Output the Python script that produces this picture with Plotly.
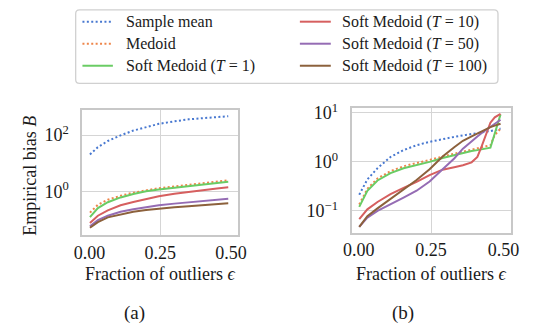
import numpy as np
import plotly.graph_objects as go

W, H = 535, 332

# ---------------- data (bias values, stored as log10) ----------------
eps_left = [0.002, 0.03, 0.065, 0.11, 0.155, 0.2, 0.245, 0.3, 0.35, 0.4, 0.45, 0.49]
left_mean_log10 = [1.31, 1.57, 1.79, 1.99, 2.16, 2.29, 2.40, 2.49, 2.56, 2.60, 2.64, 2.67]
left_medoid_log10 = [-0.76, -0.48, -0.30, -0.16, -0.05, 0.04, 0.11, 0.17, 0.23, 0.29, 0.35, 0.39]
left_t1_log10 = [-0.92, -0.60, -0.39, -0.22, -0.10, 0.00, 0.06, 0.12, 0.18, 0.24, 0.30, 0.34]
left_t10_log10 = [-1.13, -0.87, -0.68, -0.50, -0.38, -0.27, -0.18, -0.09, -0.02, 0.04, 0.10, 0.14]
left_t50_log10 = [-1.25, -1.03, -0.87, -0.73, -0.64, -0.56, -0.50, -0.44, -0.39, -0.34, -0.30, -0.27]
left_t100_log10 = [-1.30, -1.10, -0.93, -0.82, -0.73, -0.67, -0.62, -0.57, -0.53, -0.49, -0.46, -0.43]

eps_right = [0.002, 0.03, 0.065, 0.11, 0.155, 0.2, 0.245, 0.29, 0.33, 0.36, 0.39, 0.41,
             0.425, 0.44, 0.455, 0.47, 0.49]
right_mean_log10 = [-0.67, -0.36, -0.13, 0.10, 0.24, 0.34, 0.41, 0.47, 0.51, 0.54, 0.565, 0.585,
                    0.60, 0.615, 0.63, 0.65, 0.68]
right_medoid_log10 = [-0.87, -0.55, -0.34, -0.19, -0.09, -0.03, 0.04, 0.11, 0.17, 0.21, 0.25, 0.28,
                      0.30, 0.32, 0.34, 0.55, 0.68]
right_t1_log10 = [-0.92, -0.59, -0.38, -0.23, -0.13, -0.07, 0.00, 0.08, 0.14, 0.18, 0.22, 0.24,
                  0.26, 0.275, 0.29, 0.58, 0.97]
right_t10_log10 = [-1.17, -0.97, -0.82, -0.66, -0.53, -0.41, -0.27, -0.16, -0.11, -0.07, -0.01, 0.10,
                   0.32, 0.57, 0.80, 0.91, 0.98]
right_t50_log10 = [-1.33, -1.14, -1.00, -0.87, -0.73, -0.59, -0.40, -0.15, 0.07, 0.27, 0.43, 0.52,
                   0.59, 0.65, 0.71, 0.77, 0.86]
right_t100_log10 = [-1.33, -1.11, -0.95, -0.76, -0.57, -0.37, -0.15, 0.11, 0.30, 0.43, 0.52, 0.58,
                    0.63, 0.67, 0.71, 0.74, 0.78]

series_names = ["Sample mean", "Medoid",
                "Soft Medoid (<i>T</i> = 1)", "Soft Medoid (<i>T</i> = 10)",
                "Soft Medoid (<i>T</i> = 50)", "Soft Medoid (<i>T</i> = 100)"]
series_colors = ["#4878d0", "#ee854a", "#6acc64", "#d65f5f", "#956cb4", "#8c613c"]
series_dash = ["2px,2.4px", "2px,2.4px", "solid", "solid", "solid", "solid"]

x_tickvals = [0.0, 0.25, 0.5]
x_ticktext = ["0.00", "0.25", "0.50"]
left_y_tickvals = [1, 100]
left_y_ticktext = ["10<sup>0</sup>", "10<sup>2</sup>"]
right_y_tickvals = [0.1, 1, 10]
right_y_ticktext = ["10<sup>−1</sup>", "10<sup>0</sup>", "10<sup>1</sup>"]

left_series = [left_mean_log10, left_medoid_log10, left_t1_log10,
               left_t10_log10, left_t50_log10, left_t100_log10]
right_series = [right_mean_log10, right_medoid_log10, right_t1_log10,
                right_t10_log10, right_t50_log10, right_t100_log10]

# ---------------- figure ----------------
FONT = "'Liberation Serif', 'Times New Roman', Times, serif"
TXT = "#1a1a1a"
GRID = "#d5d5d5"
FRAME = "#c8c8c8"

fig = go.Figure()
for i in range(6):
    fig.add_trace(go.Scatter(x=eps_left, y=10 ** np.array(left_series[i]), mode="lines",
                             line=dict(color=series_colors[i], width=2, dash=series_dash[i]),
                             name=series_names[i], showlegend=False, xaxis="x", yaxis="y"))
    fig.add_trace(go.Scatter(x=eps_right, y=10 ** np.array(right_series[i]), mode="lines",
                             line=dict(color=series_colors[i], width=2, dash=series_dash[i]),
                             name=series_names[i], showlegend=False, xaxis="x2", yaxis="y2"))


def px(x):
    return x / W


def py(y):
    return 1 - y / H


common_x = dict(range=[-0.0245, 0.5245], tickmode="array", tickvals=x_tickvals, ticktext=x_ticktext,
                showgrid=False, zeroline=False, showline=True, mirror=True, linecolor=FRAME, linewidth=2,
                ticks="", ticklabelstandoff=0,
                minor=dict(tickmode="array", tickvals=[0.25], showgrid=True, gridcolor=GRID, gridwidth=1.3,
                           ticks=""),
                tickfont=dict(family=FONT, size=18, color=TXT))
common_y = dict(type="log", tickmode="array", showgrid=True, gridcolor=GRID, gridwidth=1.3,
                zeroline=False, showline=True, mirror=True, linecolor=FRAME, linewidth=2,
                ticks="", ticklabelstandoff=8, tickfont=dict(family=FONT, size=18, color=TXT))

fig.update_layout(
    width=W, height=H, margin=dict(l=0, r=0, t=0, b=0),
    paper_bgcolor="white", plot_bgcolor="white",
    font=dict(family=FONT, color=TXT),
    xaxis=dict(domain=[px(76), px(237)], anchor="y", **common_x),
    yaxis=dict(domain=[py(233), py(105)], anchor="x", range=[-1.56, 2.9],
               tickvals=left_y_tickvals, ticktext=left_y_ticktext, **common_y),
    xaxis2=dict(domain=[px(354.5), px(519)], anchor="y2", **common_x),
    yaxis2=dict(domain=[py(230.7), py(102.7)], anchor="x2", range=[-1.45, 1.11],
                tickvals=right_y_tickvals, ticktext=right_y_ticktext, **common_y),
    showlegend=False,
)

ann = []
shapes = []
# axis titles and captions
ann.append(dict(text="Fraction of outliers <i>ϵ</i>", x=px(156), y=py(273), xref="paper", yref="paper",
                showarrow=False, xanchor="center", yanchor="middle", font=dict(family=FONT, size=18, color=TXT)))
ann.append(dict(text="Fraction of outliers <i>ϵ</i>", x=px(437), y=py(273), xref="paper", yref="paper",
                showarrow=False, xanchor="center", yanchor="middle", font=dict(family=FONT, size=18, color=TXT)))
ann.append(dict(text="Empirical bias <i>B</i>", x=px(22), y=py(172), xref="paper", yref="paper",
                showarrow=False, textangle=-90, xanchor="center", yanchor="middle",
                font=dict(family=FONT, size=18, color=TXT)))
ann.append(dict(text="(a)", x=px(129.5), y=py(313), xref="paper", yref="paper", showarrow=False,
                xanchor="center", yanchor="middle", font=dict(family=FONT, size=19, color=TXT)))
ann.append(dict(text="(b)", x=px(407.5), y=py(313), xref="paper", yref="paper", showarrow=False,
                xanchor="center", yanchor="middle", font=dict(family=FONT, size=19, color=TXT)))

# legend box (rounded)
bx0, bx1, by0, by1, r = 69, 506, 3, 78, 4
path = (f"M {px(bx0 + r)},{py(by0)} L {px(bx1 - r)},{py(by0)} Q {px(bx1)},{py(by0)} {px(bx1)},{py(by0 + r)} "
        f"L {px(bx1)},{py(by1 - r)} Q {px(bx1)},{py(by1)} {px(bx1 - r)},{py(by1)} "
        f"L {px(bx0 + r)},{py(by1)} Q {px(bx0)},{py(by1)} {px(bx0)},{py(by1 - r)} "
        f"L {px(bx0)},{py(by0 + r)} Q {px(bx0)},{py(by0)} {px(bx0 + r)},{py(by0)} Z")
shapes.append(dict(type="path", path=path, xref="paper", yref="paper",
                   line=dict(color="#d0d0d0", width=1.3), fillcolor="white", layer="below"))

rows = [15, 37.5, 60]
cols = [(76, 107.5, 119), (301, 333, 343)]
for i in range(6):
    c = cols[i // 3]
    yy = rows[i % 3]
    shapes.append(dict(type="line", xref="paper", yref="paper", x0=px(c[0]), x1=px(c[1]), y0=py(yy), y1=py(yy),
                       line=dict(color=series_colors[i], width=2, dash=series_dash[i])))
    ann.append(dict(text=series_names[i], x=px(c[2]), y=py(yy), xref="paper", yref="paper", showarrow=False,
                    xanchor="left", yanchor="middle", font=dict(family=FONT, size=16, color=TXT)))

fig.update_layout(annotations=ann, shapes=shapes)
fig.write_html("out.html")
